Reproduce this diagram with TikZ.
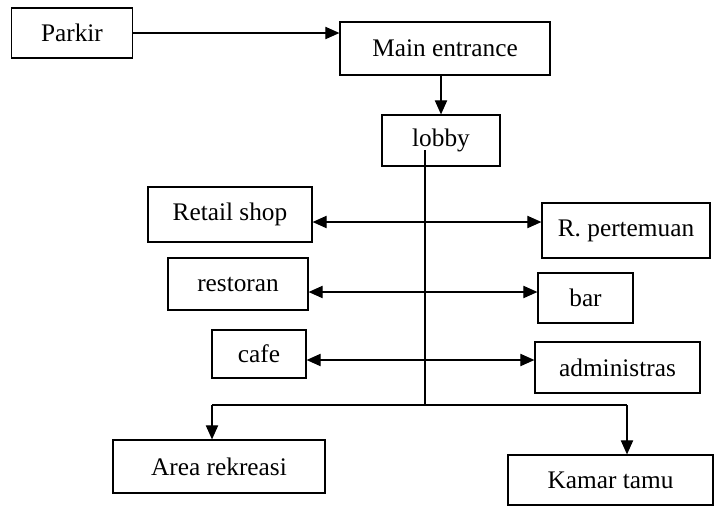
\documentclass[tikz,border=0pt]{standalone}
\usepackage{fontspec}
\setmainfont{Liberation Serif}
\usetikzlibrary{arrows.meta}

\begin{document}
\begin{tikzpicture}[
    box/.style={draw, line width=0.7pt, inner sep=0pt, font=\fontsize{14.4}{17}\selectfont},
    link/.style={line width=0.7pt},
    >={Triangle[length=8pt,width=7pt]}]
  \useasboundingbox (0,0) rectangle (14.34,-10.18);

   \draw (1.44,-0.66) node[box,minimum width=2.42cm,minimum height=1cm] (parkir) {Parkir};
   \draw (8.9,-0.97) node[box,minimum width=4.2cm,minimum height=1.06cm] (main) {Main entrance};
   \draw (8.82,-2.81) node[box,minimum width=2.36cm,minimum height=1.02cm] (lobby) {lobby};

   \draw (4.6,-4.29) node[box,minimum width=3.28cm,minimum height=1.1cm] (retail) {Retail shop};
   \draw (12.52,-4.61) node[box,minimum width=3.36cm,minimum height=1.1cm] (rapat) {R. pertemuan};
   \draw (4.76,-5.68) node[box,minimum width=2.8cm,minimum height=1.04cm] (resto) {restoran};
   \draw (11.71,-5.96) node[box,minimum width=1.9cm,minimum height=1cm] (bar) {bar};
   \draw (5.18,-7.08) node[box,minimum width=1.88cm,minimum height=0.96cm] (cafe) {cafe};
   \draw (12.35,-7.35) node[box,minimum width=3.3cm,minimum height=1.02cm] (admin) {administras};

   \draw (4.38,-9.33) node[box,minimum width=4.24cm,minimum height=1.06cm] (rekreasi) {Area rekreasi};
   \draw (12.21,-9.6) node[box,minimum width=4.1cm,minimum height=1cm] (kamar) {Kamar tamu};

   % spine and branch points
   \coordinate (top) at (8.5,-3.0);
   \coordinate (bottom) at (8.5,-8.1);
   \coordinate (kiri) at (4.24,-8.1);
   \coordinate (kanan) at (12.54,-8.1);
   \coordinate (row1) at (0,-4.44);
   \coordinate (row2) at (0,-5.84);
   \coordinate (row3) at (0,-7.2);

   \draw[link,->] (parkir.east) -- (parkir.east -| main.west);
   \draw[link,->] (main.south -| lobby.north) -- (lobby.north);
   \draw[link] (top) -- (bottom);
   \draw[link] (kiri) -- (kanan);

   \draw[link,<->] (retail.east |- row1) -- (rapat.west |- row1);
   \draw[link,<->] (resto.east |- row2) -- (bar.west |- row2);
   \draw[link,<->] (cafe.east |- row3) -- (admin.west |- row3);

   \draw[link,->] (kiri) -- (kiri |- rekreasi.north);
   \draw[link,->] (kanan) -- (kanan |- kamar.north);

\end{tikzpicture}
\end{document}
